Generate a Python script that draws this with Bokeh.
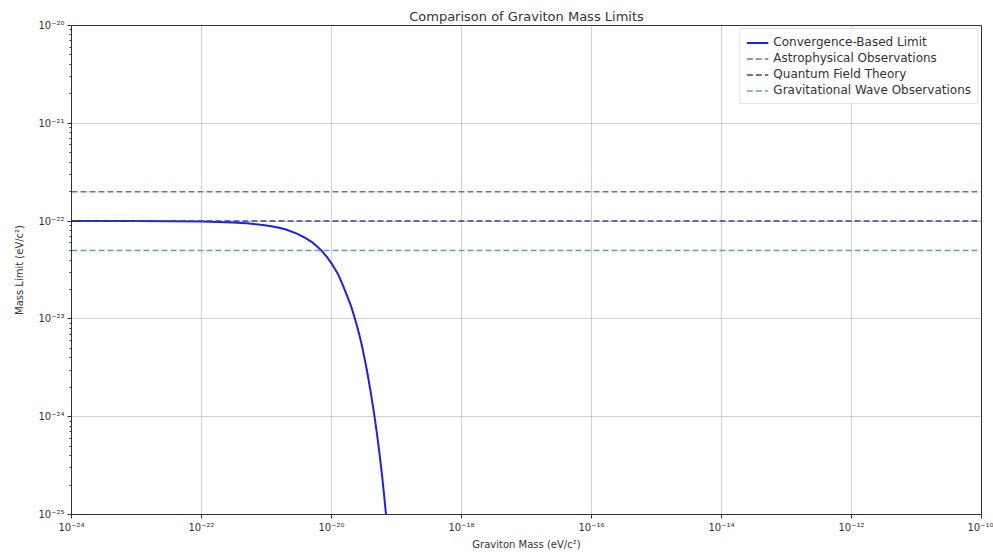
from bokeh.plotting import figure
from bokeh.models import FixedTicker, CustomJSTickFormatter, Legend, LegendItem
from bokeh.embed import file_html
from bokeh.resources import INLINE

# Convergence-based limit curve
mass = [1e-24, 1e-23, 1e-22, 3e-22, 5e-22, 1e-21, 1.5e-21, 2e-21, 3e-21, 4e-21, 5e-21,
        6e-21, 7e-21, 8.5e-21, 1e-20, 1.25e-20, 1.5e-20, 1.75e-20, 2e-20, 2.25e-20,
        2.5e-20, 2.75e-20, 3e-20, 3.5e-20, 4e-20, 4.5e-20, 5e-20, 5.5e-20, 6e-20,
        6.5e-20, 7e-20, 7.5e-20]
limit = [1.0e-22, 1.0e-22, 0.99e-22, 0.97e-22, 0.95e-22, 0.90e-22, 0.86e-22, 0.82e-22,
         0.74e-22, 0.67e-22, 0.61e-22, 0.55e-22, 0.50e-22, 0.43e-22, 0.37e-22, 0.29e-22,
         0.22e-22, 0.17e-22, 0.135e-22, 0.105e-22, 0.082e-22, 0.064e-22, 0.050e-22,
         0.030e-22, 0.018e-22, 0.011e-22, 0.0067e-22, 0.0041e-22, 0.0025e-22,
         0.0015e-22, 0.0009e-22, 0.00055e-22]

ref_names = ["Astrophysical Observations", "Quantum Field Theory", "Gravitational Wave Observations"]
ref_values = [2e-22, 1e-22, 5e-23]
ref_colors = ["#5a78aa", "#34468a", "#6e9ab8"]

x_ticks = [1e-24, 1e-22, 1e-20, 1e-18, 1e-16, 1e-14, 1e-12, 1e-10]
y_ticks = [1e-25, 1e-24, 1e-23, 1e-22, 1e-21, 1e-20]

FONT = "DejaVu Sans"

p = figure(width=993, height=552, x_axis_type="log", y_axis_type="log",
           x_range=(1e-24, 1e-10), y_range=(1e-25, 1e-20),
           output_backend="svg", toolbar_location=None,
           title="Comparison of Graviton Mass Limits",
           min_border_left=71, min_border_right=12, min_border_bottom=37, min_border_top=25)

p.title.align = "center"
p.title.text_font = FONT
p.title.text_font_size = "13px"
p.title.text_font_style = "normal"
p.title.text_color = "#333333"
p.title.standoff = 3

minor_y = [m * 10.0 ** e for e in range(-25, -20) for m in range(2, 10)]
p.xaxis.ticker = FixedTicker(ticks=x_ticks, minor_ticks=[])
p.yaxis.ticker = FixedTicker(ticks=y_ticks, minor_ticks=minor_y)

fmt = CustomJSTickFormatter(code="""
const e = Math.round(Math.log10(tick));
const sup = {'-':'\u207b','0':'\u2070','1':'\u00b9','2':'\u00b2','3':'\u00b3','4':'\u2074','5':'\u2075','6':'\u2076','7':'\u2077','8':'\u2078','9':'\u2079'};
let s = '';
for (const ch of String(e)) s += sup[ch];
return '10' + s;
""")
p.xaxis.formatter = fmt
p.yaxis.formatter = fmt

for ax in (p.xaxis, p.yaxis):
    ax.major_label_text_font = FONT
    ax.major_label_text_font_size = "10px"
    ax.major_label_text_color = "#333333"
    ax.axis_label_text_font = FONT
    ax.axis_label_text_font_size = "10px"
    ax.axis_label_text_font_style = "normal"
    ax.axis_label_text_color = "#333333"
    ax.axis_line_color = "#333333"
    ax.major_tick_line_color = "#333333"
    ax.minor_tick_line_color = "#333333"
    ax.major_tick_out = 4
    ax.major_tick_in = 0
    ax.minor_tick_out = 2
    ax.minor_tick_in = 0
    ax.major_label_standoff = 3

p.xaxis.axis_label_standoff = 3
p.yaxis.axis_label_standoff = 10

p.xaxis.axis_label = "Graviton Mass (eV/c\u00b2)"
p.yaxis.axis_label = "Mass Limit (eV/c\u00b2)"

p.outline_line_color = "#333333"
p.outline_line_width = 1
p.grid.grid_line_color = "#b0b0b0"
p.grid.grid_line_alpha = 0.6
p.grid.grid_line_width = 1
p.background_fill_color = "white"
p.border_fill_color = "white"

curve = p.line(mass, limit, line_color="#1f1fe8", line_width=2)

items = [LegendItem(label="Convergence-Based Limit", renderers=[curve])]
for name, val, col in zip(ref_names, ref_values, ref_colors):
    r = p.line([1e-24, 1e-10], [val, val], line_color=col, line_width=1.5, line_dash="6 3")
    items.append(LegendItem(label=name, renderers=[r]))

legend = Legend(items=items, location="top_right")
legend.label_text_font = FONT
legend.label_text_font_size = "12px"
legend.label_text_color = "#333333"
legend.label_height = 13
legend.glyph_height = 13
legend.glyph_width = 22
legend.spacing = 2
legend.padding = 6
legend.margin = 3
legend.border_line_color = "#cccccc"
legend.background_fill_alpha = 0.8
p.add_layout(legend)

open("out.html", "w").write(file_html(p, INLINE))
